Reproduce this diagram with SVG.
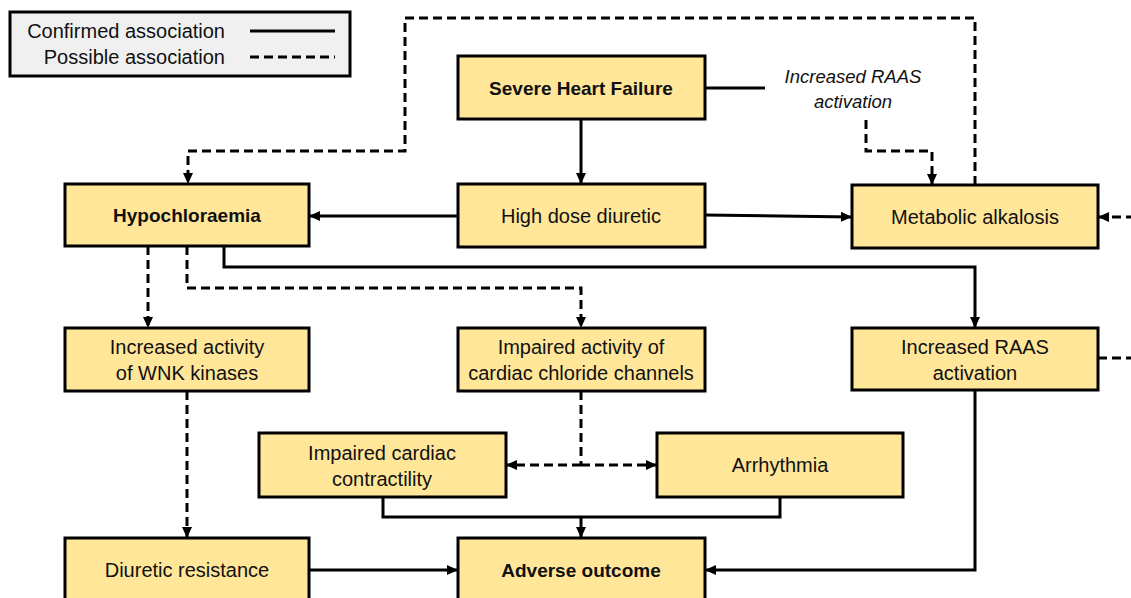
<svg xmlns="http://www.w3.org/2000/svg" width="1131" height="598" viewBox="0 0 1131 598">
<style>
.box{fill:#FFE699;stroke:#000;stroke-width:3}
.t{font-family:"Liberation Sans",Arial,sans-serif;font-size:20px;fill:#111;text-anchor:middle}
.b{font-weight:bold;font-size:19px}
.i{font-style:italic;font-size:18.5px}
.s{fill:none;stroke:#000;stroke-width:3}
.d{fill:none;stroke:#000;stroke-width:3;stroke-dasharray:9 5}
</style>
<defs>
<marker id="ah" markerUnits="userSpaceOnUse" markerWidth="12" markerHeight="12" refX="11" refY="6" orient="auto">
<path d="M0,1 L11,6 L0,11 z" fill="#000"/>
</marker>
</defs>
<rect width="1131" height="598" fill="#fff"/>
<g id="legend">
<rect x="10" y="12" width="340" height="64" fill="#f0f0f0" stroke="#000" stroke-width="3"/>
<text class="t" x="225" y="38" style="text-anchor:end">Confirmed association</text>
<text class="t" x="225" y="64" style="text-anchor:end">Possible association</text>
<line class="s" x1="250" y1="31" x2="335" y2="31"/>
<line class="d" x1="250" y1="57" x2="335" y2="57"/>
</g>
<g id="connectors">
<line class="s" x1="581" y1="119" x2="581" y2="184" marker-end="url(#ah)"/>
<line class="s" x1="705" y1="88" x2="765" y2="88"/>
<polyline class="d" points="866,120 866,151 932,151 932,185" marker-end="url(#ah)"/>
<polyline class="d" points="975,185 975,18 405,18 405,151 188,151 188,184" marker-end="url(#ah)"/>
<line class="s" x1="458" y1="216" x2="309" y2="216" marker-end="url(#ah)"/>
<line class="s" x1="705" y1="215" x2="852" y2="217" marker-end="url(#ah)"/>
<line class="d" x1="1135" y1="217" x2="1098" y2="217" marker-end="url(#ah)"/>
<line class="d" x1="1098" y1="358" x2="1135" y2="358"/>
<line class="d" x1="148" y1="246" x2="148" y2="328" marker-end="url(#ah)"/>
<polyline class="d" points="187,246 187,288 581,288 581,328" marker-end="url(#ah)"/>
<polyline class="s" points="224,246 224,267 975,267 975,328" marker-end="url(#ah)"/>
<line class="d" x1="187" y1="391" x2="187" y2="538" marker-end="url(#ah)"/>
<line class="d" x1="581" y1="391" x2="581" y2="465"/>
<line class="d" x1="581" y1="465" x2="506" y2="465" marker-end="url(#ah)"/>
<line class="d" x1="581" y1="465" x2="657" y2="465" marker-end="url(#ah)"/>
<polyline class="s" points="383,497 383,517 780,517 780,497"/>
<line class="s" x1="581" y1="517" x2="581" y2="538" marker-end="url(#ah)"/>
<line class="s" x1="309" y1="570" x2="458" y2="570" marker-end="url(#ah)"/>
<polyline class="s" points="975,390 975,570 705,570" marker-end="url(#ah)"/>
</g>
<g id="raas-note">
<text class="t i" x="853" y="83">Increased RAAS</text>
<text class="t i" x="853" y="108">activation</text>
</g>
<g id="severe-heart-failure">
<rect class="box" x="458" y="56" width="247" height="63"/>
<text class="t b" x="581" y="95">Severe Heart Failure</text>
</g>
<g id="high-dose-diuretic">
<rect class="box" x="458" y="184" width="247" height="63"/>
<text class="t" x="581" y="223">High dose diuretic</text>
</g>
<g id="hypochloraemia">
<rect class="box" x="65" y="184" width="244" height="62"/>
<text class="t b" x="187" y="222">Hypochloraemia</text>
</g>
<g id="metabolic-alkalosis">
<rect class="box" x="852" y="185" width="246" height="63"/>
<text class="t" x="975" y="224">Metabolic alkalosis</text>
</g>
<g id="wnk">
<rect class="box" x="65" y="328" width="244" height="63"/>
<text class="t" x="187" y="354">Increased activity</text>
<text class="t" x="187" y="380">of WNK kinases</text>
</g>
<g id="chloride-channels">
<rect class="box" x="458" y="328" width="247" height="63"/>
<text class="t" x="581" y="354">Impaired activity of</text>
<text class="t" x="581" y="380">cardiac chloride channels</text>
</g>
<g id="raas">
<rect class="box" x="852" y="328" width="246" height="62"/>
<text class="t" x="975" y="354">Increased RAAS</text>
<text class="t" x="975" y="380">activation</text>
</g>
<g id="contractility">
<rect class="box" x="259" y="433" width="247" height="64"/>
<text class="t" x="382" y="460">Impaired cardiac</text>
<text class="t" x="382" y="486">contractility</text>
</g>
<g id="arrhythmia">
<rect class="box" x="657" y="433" width="246" height="64"/>
<text class="t" x="780" y="472">Arrhythmia</text>
</g>
<g id="diuretic-resistance">
<rect class="box" x="65" y="538" width="244" height="64"/>
<text class="t" x="187" y="577">Diuretic resistance</text>
</g>
<g id="adverse-outcome">
<rect class="box" x="458" y="538" width="247" height="64"/>
<text class="t b" x="581" y="577">Adverse outcome</text>
</g>
</svg>
